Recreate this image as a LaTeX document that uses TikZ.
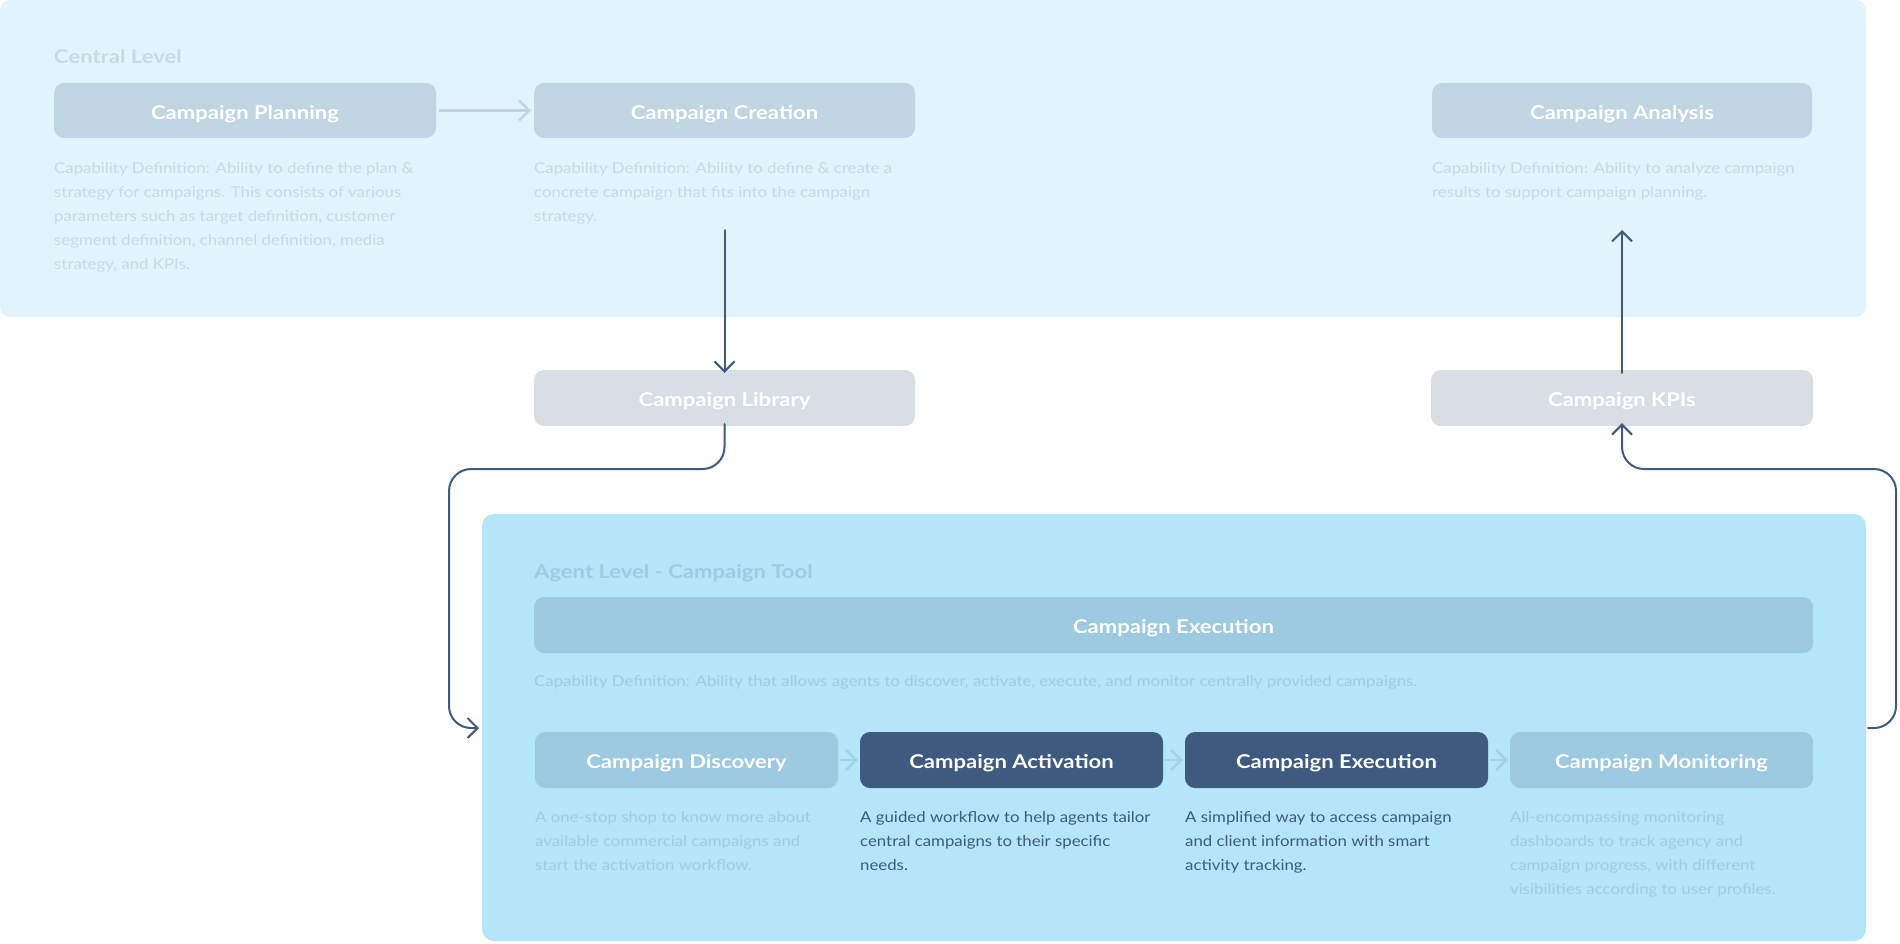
\documentclass[tikz,border=0pt]{standalone}
\usepackage{fontspec}
\setmainfont{Lato}[FakeStretch=1.12, BoldFeatures={FakeStretch=1.16}]
\usetikzlibrary{arrows.meta}
\definecolor{centralbg}{HTML}{E1F4FC}
\definecolor{agentbg}{HTML}{B5E5F9}
\definecolor{centralbox}{HTML}{C0D7E3}
\definecolor{greybox}{HTML}{D9DEE5}
\definecolor{lightbox}{HTML}{9DC9E1}
\definecolor{darkbox}{HTML}{3E5A7E}
\definecolor{centraltext}{HTML}{C6DAE6}
\definecolor{agenttext}{HTML}{9CCDE4}
\definecolor{rowarrow}{HTML}{A3D1E6}
\tikzset{
  box/.style={rectangle, rounded corners=10pt, minimum height=55pt, inner sep=0pt,
    text height=17pt, text depth=0pt, font=\fontsize{19}{22}\selectfont\bfseries, text=white},
  desc/.style={anchor=north west, inner sep=0pt, align=left, font=\fontsize{15}{24}\selectfont},
  lvl/.style={anchor=base west, inner sep=0pt, font=\fontsize{19}{22}\selectfont\bfseries},
  conn/.style={draw=darkbox, line width=2pt, rounded corners=22pt, line cap=round,
    -{Straight Barb[length=10pt,width=20pt]}},
  lightarrow/.style={line width=2.5pt, -{Straight Barb[length=10pt,width=20pt]}},
}
\begin{document}
\begin{tikzpicture}[x=1pt,y=-1pt]
\useasboundingbox (0,0) rectangle (1900,943);
% backgrounds
\fill[centralbg, rounded corners=10pt] (0,0) rectangle (1866,317);
\fill[agentbg, rounded corners=12pt] (482,514) rectangle (1866,941);

% central level
\node[lvl, text=centraltext] (cl) at (54,63) {Central Level};
\node[box, fill=centralbox, minimum width=382pt] (plan) at (245,110.5) {Campaign Planning};
\node[box, fill=centralbox, minimum width=381pt] (crea) at (724.5,110.5) {Campaign Creation};
\node[box, fill=centralbox, minimum width=380pt] (anal) at (1622,110.5) {Campaign Analysis};
\node[desc, text=centraltext] (pland) at (54,162.5) {Capability Definition: Ability to define the plan \&\\strategy for campaigns. This consists of various\\parameters such as target definition, customer\\segment definition, channel definition, media\\strategy, and KPIs.};
\node[desc, text=centraltext] (cread) at (534,162.5) {Capability Definition: Ability to define \& create a\\concrete campaign that fits into the campaign\\strategy.};
\node[desc, text=centraltext] (anald) at (1432,162.5) {Capability Definition: Ability to analyze campaign\\results to support campaign planning.};

% middle boxes
\node[box, fill=greybox, minimum width=381pt, minimum height=56pt] (lib) at (724.5,398) {Campaign Library};
\node[box, fill=greybox, minimum width=382pt, minimum height=56pt] (kpi) at (1622,398) {Campaign KPIs};

% agent level
\node[lvl, text=agenttext] (al) at (534,578) {Agent Level - Campaign Tool};
\node[box, fill=lightbox, minimum width=1279pt, minimum height=56pt] (execw) at (1173.5,625) {Campaign Execution};
\node[anchor=base west, inner sep=0pt, font=\fontsize{15}{24}\selectfont, text=agenttext] (agd) at (534,686) {Capability Definition: Ability that allows agents to discover, activate, execute, and monitor centrally provided campaigns.};

\node[box, fill=lightbox, minimum width=303pt, minimum height=56pt] (disc) at (686.5,760) {Campaign Discovery};
\node[box, fill=darkbox, minimum width=303pt, minimum height=56pt] (act) at (1011.5,760) {Campaign Activation};
\node[box, fill=darkbox, minimum width=303pt, minimum height=56pt] (exe) at (1336.5,760) {Campaign Execution};
\node[box, fill=lightbox, minimum width=303pt, minimum height=56pt] (mon) at (1661.5,760) {Campaign Monitoring};

\node[desc, text=agenttext] (discd) at (535,811.5) {A one-stop shop to know more about\\available commercial campaigns and\\start the activation workflow.};
\node[desc, text=darkbox] (actd) at (860,811.5) {A guided workflow to help agents tailor\\central campaigns to their specific\\needs.};
\node[desc, text=darkbox] (exed) at (1185,811.5) {A simplified way to access campaign\\and client information with smart\\activity tracking.};
\node[desc, text=agenttext] (mond) at (1510,811.5) {All-encompassing monitoring\\dashboards to track agency and\\campaign progress, with different\\visibilities according to user profiles.};

% light arrows
\draw[lightarrow, draw=centralbox] ([xshift=3pt]plan.east) -- ([xshift=-3pt]crea.west);
\draw[lightarrow, draw=rowarrow] ([xshift=2pt]disc.east) -- ([xshift=-2pt]act.west);
\draw[lightarrow, draw=rowarrow] ([xshift=2pt]act.east) -- ([xshift=-2pt]exe.west);
\draw[lightarrow, draw=rowarrow] ([xshift=2pt]exe.east) -- ([xshift=-2pt]mon.west);

% dark connectors
\coordinate (creaout) at (724.5,230);
\coordinate (kpiout) at (1622,230);
\coordinate (agentin) at (479,728);
\coordinate (agentout) at (1868,728);
\draw[conn] (creaout) -- ([yshift=-3pt]lib.north);
\draw[conn] ([yshift=-3pt]kpi.north) -- (kpiout);
\draw[conn] ([yshift=2pt]lib.south) -- (724.5,469) -- (449,469) -- (449,728) -- (agentin);
\draw[conn] (agentout) -- (1896,728) -- (1896,469) -- (1622,469) -- ([yshift=3pt]kpi.south);
\end{tikzpicture}
\end{document}
